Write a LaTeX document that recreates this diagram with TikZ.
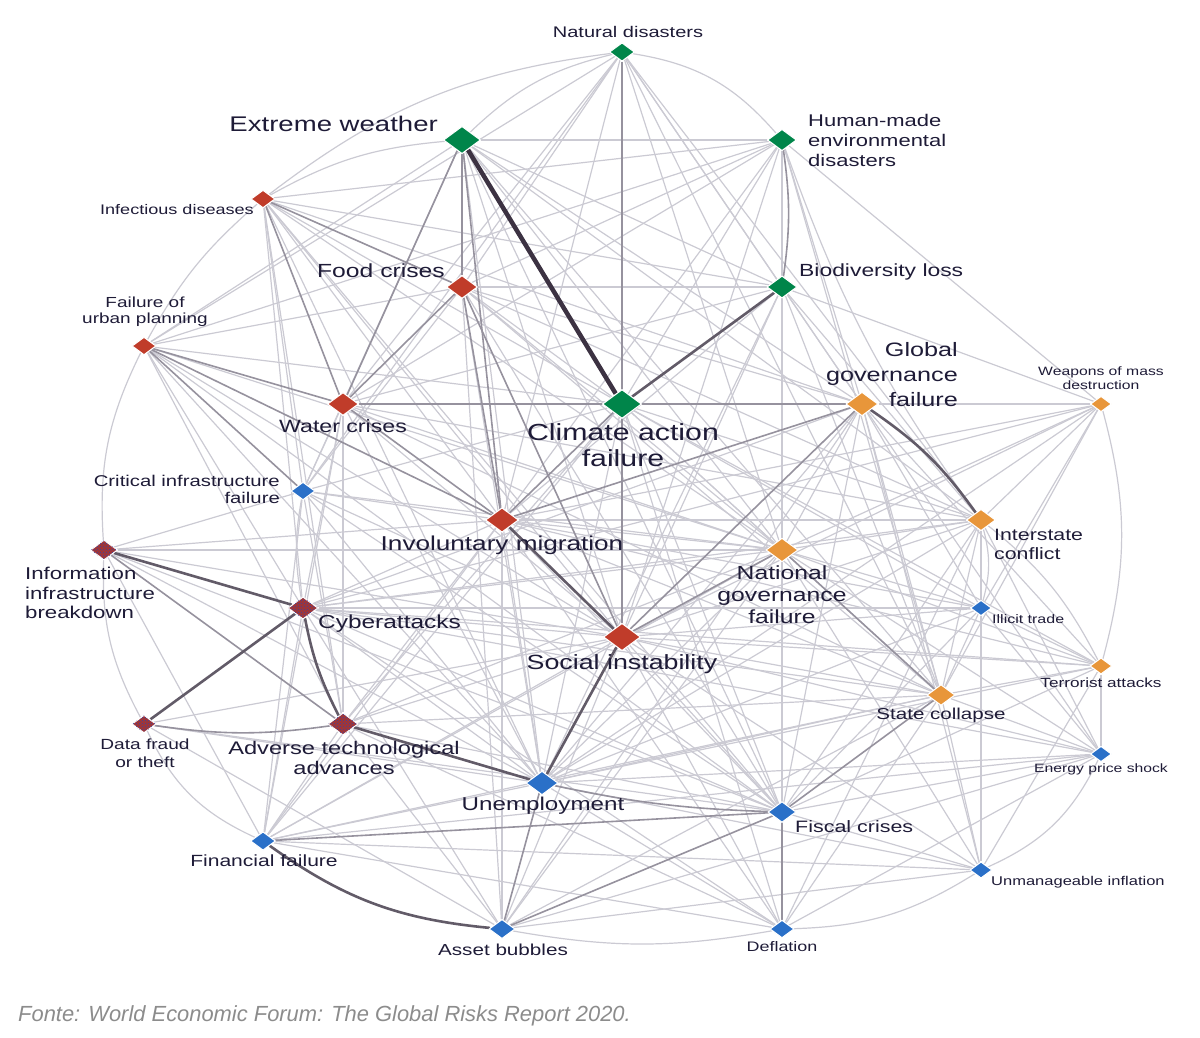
\documentclass[tikz,border=0pt]{standalone}
\usepackage{fontspec}
\setmainfont{Liberation Sans}
\newfontfamily\lblfont[FakeStretch=1.3]{Liberation Sans}
\usetikzlibrary{shapes.geometric,patterns}
\pgfdeclarelayer{bg}
\pgfsetlayers{bg,main}

\definecolor{riskgreen}{RGB}{0,133,74}
\definecolor{riskred}{RGB}{192,60,42}
\definecolor{riskorange}{RGB}{232,150,58}
\definecolor{riskblue}{RGB}{42,112,200}
\definecolor{mixred}{RGB}{165,52,50}
\definecolor{mixblue}{RGB}{50,70,170}
\definecolor{lblcol}{RGB}{30,27,55}
\definecolor{litegray}{RGB}{203,202,211}
\definecolor{midgray}{RGB}{150,146,158}
\definecolor{darkline}{RGB}{98,91,104}
\definecolor{darkestline}{RGB}{60,50,66}
\definecolor{capgray}{RGB}{140,140,140}

\newcommand{\lsz}[2]{\lblfont\fontsize{#1}{#2}\selectfont}

\begin{document}
\begin{tikzpicture}[x=1pt,y=-1pt]
    \useasboundingbox (0,0) rectangle (1200,1037);

    \tikzstyle{risk}=[diamond, inner sep=0pt, draw=white, line width=1pt]
    \tikzstyle{lbl}=[inner sep=0pt, text=lblcol]
    \tikzstyle{edgelite}=[draw=litegray, line width=1.2pt]
    \tikzstyle{edgemid}=[draw=midgray, line width=1.6pt]
    \tikzstyle{edgedark}=[draw=darkline, line width=2.6pt]
    \tikzstyle{edgetop}=[draw=darkestline, line width=4.5pt]

    % environmental
    \foreach \n/\x/\y/\w in {nd/622/52/25, ew/462/140/37, hm/782/140/29, bl/782/287/30, ca/622/404/39} {
        \node[risk, fill=riskgreen, minimum width=\w pt, minimum height=0.74*\w pt] (\n) at (\x,\y) {};
    }
    % societal
    \foreach \n/\x/\y/\w in {id/263/199/24, fc/462/287/31, up/144/346/24, wc/343/404/31, im/502/520/33, si/622/637/37} {
        \node[risk, fill=riskred, minimum width=\w pt, minimum height=0.74*\w pt] (\n) at (\x,\y) {};
    }
    % geopolitical
    \foreach \n/\x/\y/\w in {gg/862/404/32, wm/1101/404/21, ic/981/520/29, ng/782/550/32, ta/1101/666/22, sc/941/695/28} {
        \node[risk, fill=riskorange, minimum width=\w pt, minimum height=0.74*\w pt] (\n) at (\x,\y) {};
    }
    % economic
    \foreach \n/\x/\y/\w in {ci/303/491/24, it/981/608/21, ep/1101/754/21, un/542/783/32, fs/782/812/28, ff/263/841/25, ui/981/870/22, ab/502/929/26, de/782/929/24} {
        \node[risk, fill=riskblue, minimum width=\w pt, minimum height=0.74*\w pt] (\n) at (\x,\y) {};
    }
    % technological
    \foreach \n/\x/\y/\w in {ii/104/550/27, cy/303/608/30, df/144/724/24, at/343/724/30} {
        \node[risk, fill=mixred, postaction={pattern=crosshatch dots, pattern color=mixblue}, minimum width=\w pt, minimum height=0.74*\w pt] (\n) at (\x,\y) {};
    }

    \begin{pgfonlayer}{bg}
        \foreach \a/\b in {nd/fc, nd/bl, nd/wc, nd/im, nd/si, nd/gg, nd/up, nd/ci, nd/ng, nd/ic, nd/sc,
            ew/hm, ew/bl, ew/up, ew/si, ew/gg, ew/ci, ew/ng, ew/ic, ew/sc, ew/un, ew/fs,
            hm/id, hm/fc, hm/ca, hm/wc, hm/im, hm/si, hm/up, hm/ng, hm/sc, hm/gg, hm/wm,
            id/ca, id/si, id/im, id/bl, id/ci, id/gg, id/un, id/ng, id/at, id/cy, id/fs,
            fc/bl, fc/up, fc/gg, fc/ng, fc/sc, fc/un, fc/ic, fc/ci, fc/ca, fc/fs, fc/ab,
            bl/wc, bl/im, bl/gg, bl/si, bl/ic, bl/ng, bl/wm, bl/sc, bl/un,
            up/si, up/ca, up/at, up/cy, up/ng, up/fs, up/un,
            wc/ci, wc/gg, wc/ng, wc/un, wc/cy, wc/sc, wc/ic, wc/si, wc/at, wc/ff,
            ca/ng, ca/ic, ca/sc, ca/un, ca/fs, ca/ci, ca/at, ca/ff, ca/it, ca/ta, ca/de,
            gg/ng, gg/sc, gg/wm, gg/ta, gg/it, gg/un, gg/fs, gg/ep, gg/ui, gg/cy, gg/ab,
            wm/ic, wm/sc, wm/it, wm/ng, wm/si, wm/im, wm/un, wm/cy,
            ci/ii, ci/at, ci/im, ci/si, ci/un, ci/ff, ci/fs, ci/ng,
            ii/im, ii/si, ii/un, ii/ff, ii/fs, ii/ng,
            im/ic, im/ng, im/sc, im/un, im/fs, im/cy, im/at, im/it, im/ta, im/ff, im/ab, im/de,
            ic/ng, ic/sc, ic/si, ic/fs, ic/ep, ic/ui, ic/un, ic/de, ic/cy,
            ng/it, ng/ta, ng/un, ng/fs, ng/ep, ng/ui, ng/de, ng/ab, ng/ff,
            cy/si, cy/un, cy/ff, cy/fs, cy/ng, cy/sc, cy/it, cy/ta, cy/ab, cy/de, cy/ep,
            it/sc, it/ta, it/si, it/fs, it/un, it/ep,
            si/sc, si/fs, si/ta, si/at, si/ff, si/ab, si/de, si/ui, si/ep,
            ta/sc, ta/ep, ta/un, ta/fs, ta/ui,
            sc/ep, sc/ui, sc/de, sc/ab, sc/un, sc/ff, sc/at,
            df/un, df/fs, df/si, df/ab,
            at/ff, at/fs, at/ab, at/de, at/ng,
            ep/fs, ep/un, ep/ab, ep/de, ep/ff,
            un/de, un/ff, un/ui,
            fs/ui,
            ff/de, ff/ui,
            ui/ab} {
            \draw[edgelite] (\a) -- (\b);
        }
        % outer ring
        \foreach \a/\b/\k in {ew/nd/15, nd/hm/20, id/nd/15, id/ew/12, up/id/10, ii/up/15, ii/df/-15, df/ff/-20,
            ab/de/-10, de/ui/-15, ui/ep/-20, ta/wm/-15, ci/cy/-10, ic/it/15, ic/ta/12, hm/ic/-8} {
            \draw[edgelite] (\a) to[bend left=\k] (\b);
        }
        \foreach \a/\b in {ew/fc, ew/wc, ew/im, fc/wc, fc/im, fc/si, ca/wc, ca/im, ca/gg, ca/si, nd/ca,
            id/fc, id/wc, up/im, up/ci, up/wc, ii/at, fs/ab, si/ng, gg/si, gg/im, ng/sc, im/wc,
            sc/fs, un/ab, ff/fs, fs/de} {
            \draw[edgemid] (\a) -- (\b);
        }
        \draw[edgemid] (hm) to[bend left=8] (bl);
        \draw[edgemid] (df) to[bend right=8] (at);
        \draw[edgemid] (un) to[bend right=5] (fs);
        \foreach \a/\b in {bl/ca, ii/cy, cy/df, at/un, si/un, im/si} {
            \draw[edgedark] (\a) -- (\b);
        }
        \draw[edgedark] (gg) to[bend left=10] (ic);
        \draw[edgedark] (ff) to[bend right=15] (ab);
        \draw[edgedark] (cy) to[bend right=8] (at);
        \draw[edgetop] (ew) -- (ca);
    \end{pgfonlayer}

    % labels
    \node[lbl, font=\lsz{15.4}{18}] (nd_t) at (628,32) {Natural disasters};
    \node[lbl, anchor=east, font=\lsz{21.2}{25}] (ew_t) at (438,124) {Extreme weather};
    \node[lbl, anchor=west, align=left, font=\lsz{16.9}{20}] (hm_t) at (808,140) {Human-made\\environmental\\disasters};
    \node[lbl, anchor=east, font=\lsz{13.9}{17}] (id_t) at (254,210) {Infectious diseases};
    \node[lbl, anchor=east, font=\lsz{19}{23}] (fc_t) at (445,271) {Food crises};
    \node[lbl, anchor=west, font=\lsz{17.6}{21}] (bl_t) at (799,272) {Biodiversity loss};
    \node[lbl, align=center, font=\lsz{14.6}{16}] (up_t) at (145,312) {Failure of\\urban planning};
    \node[lbl, font=\lsz{17.8}{21}] (wc_t) at (343,426) {Water crises};
    \node[lbl, align=center, font=\lsz{23.3}{26}] (ca_t) at (623,445) {Climate action\\failure};
    \node[lbl, anchor=east, align=right, font=\lsz{19.4}{25}] (gg_t) at (958,375) {Global\\governance\\failure};
    \node[lbl, align=center, font=\lsz{12.1}{14}] (wm_t) at (1101,378) {Weapons of mass\\destruction};
    \node[lbl, anchor=east, align=right, font=\lsz{15.6}{17}] (ci_t) at (280,489) {Critical infrastructure\\failure};
    \node[lbl, anchor=west, align=left, font=\lsz{17.1}{19.5}] (ii_t) at (25,593) {Information\\infrastructure\\breakdown};
    \node[lbl, font=\lsz{20.1}{24}] (im_t) at (502,545) {Involuntary migration};
    \node[lbl, anchor=west, align=left, font=\lsz{16.4}{19}] (ic_t) at (994,544) {Interstate\\conflict};
    \node[lbl, align=center, font=\lsz{19}{22}] (ng_t) at (782,595) {National\\governance\\failure};
    \node[lbl, anchor=west, font=\lsz{18.8}{22}] (cy_t) at (318,624) {Cyberattacks};
    \node[lbl, anchor=west, font=\lsz{12.3}{15}] (it_t) at (992,619) {Illicit trade};
    \node[lbl, font=\lsz{20.6}{24}] (si_t) at (622,664) {Social instability};
    \node[lbl, font=\lsz{13.2}{16}] (ta_t) at (1101,683) {Terrorist attacks};
    \node[lbl, font=\lsz{15.8}{19}] (sc_t) at (941,715) {State collapse};
    \node[lbl, align=center, font=\lsz{14.7}{18}] (df_t) at (145,753) {Data fraud\\or theft};
    \node[lbl, align=center, font=\lsz{18.2}{20}] (at_t) at (344,758) {Adverse technological\\advances};
    \node[lbl, font=\lsz{12.1}{15}] (ep_t) at (1101,769) {Energy price shock};
    \node[lbl, font=\lsz{18.6}{22}] (un_t) at (543,806) {Unemployment};
    \node[lbl, anchor=west, font=\lsz{16.5}{20}] (fs_t) at (795,827) {Fiscal crises};
    \node[lbl, font=\lsz{16.2}{19}] (ff_t) at (264,861) {Financial failure};
    \node[lbl, anchor=west, font=\lsz{12.7}{15}] (ui_t) at (991,882) {Unmanageable inflation};
    \node[lbl, font=\lsz{15.9}{19}] (ab_t) at (503,950) {Asset bubbles};
    \node[lbl, font=\lsz{13.8}{17}] (de_t) at (782,947) {Deflation};

    \node[anchor=west, inner sep=0pt, text=capgray, font=\itshape\fontsize{21.9}{25}\selectfont] (src) at (18,1016) {Fonte: World Economic Forum: The Global Risks Report 2020.};
\end{tikzpicture}
\end{document}
